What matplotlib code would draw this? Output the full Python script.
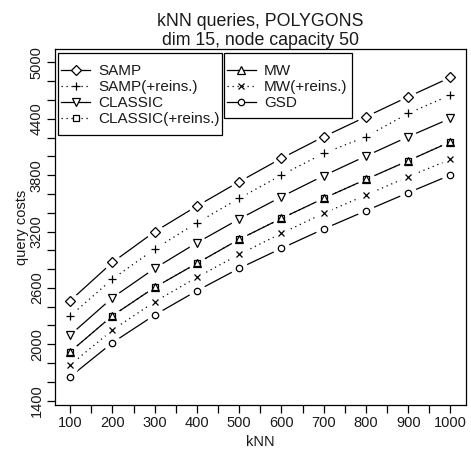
import matplotlib
matplotlib.use("Agg")
import matplotlib.pyplot as plt
from matplotlib.lines import Line2D
from matplotlib.patches import Rectangle
from matplotlib.transforms import IdentityTransform
from matplotlib.ticker import MultipleLocator, FixedLocator

plt.rcParams["font.family"] = ["Liberation Sans", "DejaVu Sans"]
TEXT = "#1a1a1a"

# kNN query costs, one list per strategy
knn = [100, 200, 300, 400, 500, 600, 700, 800, 900, 1000]
samp = [2464, 2872, 3198, 3471, 3730, 3979, 4209, 4421, 4634, 4840]
samp_reins = [2301, 2695, 3014, 3294, 3553, 3801, 4032, 4209, 4457, 4652]
classic = [2099, 2496, 2808, 3081, 3333, 3570, 3794, 4003, 4209, 4404]
classic_reins = [1921, 2304, 2606, 2862, 3117, 3340, 3553, 3755, 3953, 4155]
mw = [1921, 2304, 2606, 2862, 3117, 3340, 3553, 3755, 3953, 4155]
mw_reins = [1780, 2152, 2453, 2713, 2957, 3181, 3394, 3588, 3783, 3968]
gsd = [1655, 2017, 2312, 2570, 2808, 3021, 3227, 3421, 3613, 3801]

SOLID = "-"
DOTTED = (0, (1, 3))

# (label, values, marker, markersize, linestyle)
series = [
    ("SAMP", samp, "D", 4.6, SOLID),
    ("SAMP(+reins.)", samp_reins, "+", 6.0, DOTTED),
    ("CLASSIC", classic, "v", 5.2, SOLID),
    ("CLASSIC(+reins.)", classic_reins, "s", 4.3, DOTTED),
    ("MW", mw, "^", 5.2, SOLID),
    ("MW(+reins.)", mw_reins, "x", 4.6, DOTTED),
    ("GSD", gsd, "o", 4.6, SOLID),
]

fig = plt.figure(figsize=(4.71, 4.49), dpi=100)
ax = fig.add_axes([0.1168, 0.098, 0.8719, 0.792])

handles = []
for label, vals, mk, ms, ls in series:
    # connecting line, broken around each point by a white disc (type="b" look)
    ax.plot(knn, vals, color="black", lw=0.9, linestyle=ls, zorder=2)
    ax.plot(knn, vals, linestyle="none", marker="o", ms=12.5, mfc="white",
            mec="none", zorder=3)
    ax.plot(knn, vals, linestyle="none", marker=mk, ms=ms, mfc="none",
            mec="black", mew=0.9, zorder=4)
    handles.append(Line2D([], [], color="black", lw=0.9, linestyle=ls,
                          marker=mk, ms=ms, mfc="white", mec="black",
                          mew=0.9, label=label))

ax.set_xlim(64, 1036)
ax.set_ylim(1354, 5138)

ax.xaxis.set_major_locator(MultipleLocator(100))
ax.xaxis.set_minor_locator(FixedLocator([150, 250, 350, 450, 550, 650, 750, 850, 950]))
ax.yaxis.set_major_locator(FixedLocator([1400, 2000, 2600, 3200, 3800, 4400, 5000]))
ax.yaxis.set_minor_locator(FixedLocator(list(range(1600, 5000, 200))))
ax.tick_params(which="both", direction="out", length=6, width=0.9,
               top=False, right=False, labelsize=10.5, pad=2, labelcolor=TEXT)
plt.setp(ax.get_yticklabels(), rotation=90, va="center")
for sp in ax.spines.values():
    sp.set_linewidth(0.9)

ax.set_xlabel("kNN", fontsize=10.5, labelpad=3.5, color=TEXT)
ax.set_ylabel("query costs", fontsize=10.5, labelpad=1, color=TEXT)
ax.set_title("kNN queries, POLYGONS\ndim 15, node capacity 50",
             fontsize=12.8, linespacing=1.2, pad=3, color=TEXT)

# two legend blocks; frames drawn by hand so the padding can differ per side
legend_kw = dict(loc="upper left", fontsize=11, frameon=False, borderpad=0,
                 labelspacing=0.13, handlelength=1.9, handletextpad=0.55,
                 borderaxespad=0, labelcolor=TEXT)
leg1 = ax.legend(handles=handles[:4], bbox_to_anchor=(0.0146, 0.958), **legend_kw)
ax.add_artist(leg1)
leg2 = ax.legend(handles=handles[4:], bbox_to_anchor=(0.418, 0.958), **legend_kw)
leg1.set_zorder(6)
leg2.set_zorder(6)

fig.canvas.draw()
renderer = fig.canvas.get_renderer()
# (left, right, top, bottom) padding in pixels
for leg, (pl, pr, pt, pb) in [(leg1, (3.3, 2.5, 11, 8.5)), (leg2, (2.4, 4.5, 11, 7.5))]:
    bb = leg.get_window_extent(renderer)
    frame = Rectangle((bb.x0 - pl, bb.y0 - pb), bb.width + pl + pr,
                      bb.height + pt + pb, transform=IdentityTransform(),
                      facecolor="white", edgecolor="black", lw=0.9, zorder=5)
    ax.add_patch(frame)

fig.savefig("out.png", dpi=100)
